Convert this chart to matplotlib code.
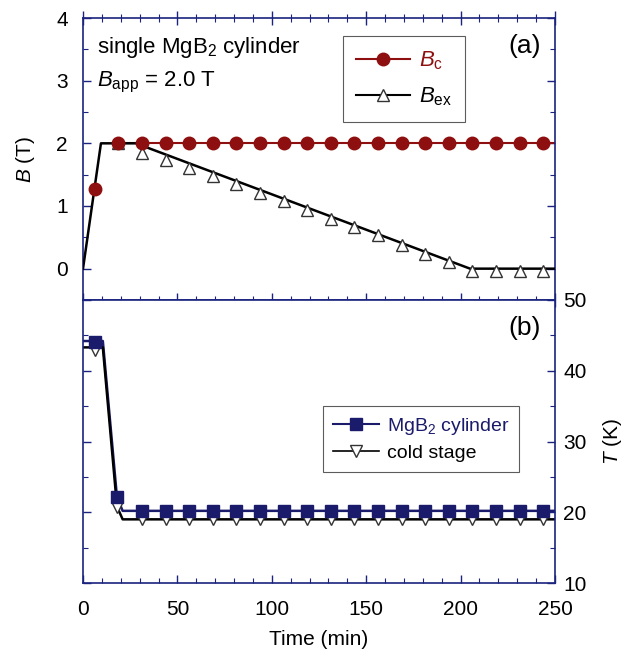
import matplotlib
matplotlib.use("Agg")
import matplotlib.pyplot as plt
from matplotlib.ticker import MultipleLocator

# ── data ──
t_marks = [6.25, 18.75, 31.25, 43.75, 56.25, 68.75, 81.25, 93.75, 106.25, 118.75,
           131.25, 143.75, 156.25, 168.75, 181.25, 193.75, 206.25, 218.75, 231.25, 243.75]
b_c = [1.27, 2.0, 2.0, 2.0, 2.0, 2.0, 2.0, 2.0, 2.0, 2.0,
       2.0, 2.0, 2.0, 2.0, 2.0, 2.0, 2.0, 2.0, 2.0, 2.0]
t_ex = t_marks[1:]
b_ex = [2.0, 1.85, 1.73, 1.60, 1.48, 1.35, 1.21, 1.08, 0.94, 0.80,
        0.66, 0.53, 0.38, 0.24, 0.10, -0.03, -0.03, -0.03, -0.03]
# continuous traces
t_bc_line = [18.75, 250]
bc_line = [2.0, 2.0]
t_bex_line = [0, 9.5, 28, 205, 250]
bex_line = [0, 2.0, 2.0, 0.0, 0.0]

t_cyl = [6.25, 18.0, 31.25, 43.75, 56.25, 68.75, 81.25, 93.75, 106.25, 118.75,
         131.25, 143.75, 156.25, 168.75, 181.25, 193.75, 206.25, 218.75, 231.25, 243.75]
T_cyl = [44.0, 22.1, 20.2, 20.2, 20.2, 20.2, 20.2, 20.2, 20.2, 20.2,
         20.2, 20.2, 20.2, 20.2, 20.2, 20.2, 20.2, 20.2, 20.2, 20.2]
T_stage = [43.0, 20.8, 19.0, 19.0, 19.0, 19.0, 19.0, 19.0, 19.0, 19.0,
           19.0, 19.0, 19.0, 19.0, 19.0, 19.0, 19.0, 19.0, 19.0, 19.0]
t_line_b = [0, 10.5, 18.0, 21.0, 250]
T_cyl_line = [44.2, 44.2, 22.1, 20.2, 20.2]
T_stage_line = [43.3, 43.3, 20.8, 19.0, 19.0]

RED = '#8E0F0F'
NAVY = '#1B1B6B'
SPINE = '#1A237E'

plt.rcParams.update({
    'font.family': ['Liberation Sans', 'DejaVu Sans'],
    'mathtext.fontset': 'custom',
    'mathtext.rm': 'Liberation Sans',
    'mathtext.it': 'Liberation Sans:italic',
    'font.size': 14,
})

fig = plt.figure(figsize=(6.26, 6.57), dpi=100, facecolor='white')
ax1 = fig.add_axes([0.1326, 0.5434, 0.754, 0.4292])
ax2 = fig.add_axes([0.1326, 0.1126, 0.754, 0.4308], sharex=ax1)

# ── panel (a) ──
ax1.plot(t_bc_line, bc_line, color=RED, lw=1.5, zorder=2)
ax1.plot(t_marks, b_c, ls='none', marker='o', ms=9, color=RED, mec=RED, zorder=4)
ax1.plot(t_bex_line, bex_line, color='black', lw=1.8, zorder=3)
ax1.plot(t_ex, b_ex, ls='none', marker='^', ms=9, mfc='white', mec='#333333',
         mew=1.0, zorder=3.5)

h1 = ax1.plot([], [], color=RED, lw=1.5, marker='o', ms=9, mec=RED)[0]
h2 = ax1.plot([], [], color='black', lw=1.5, marker='^', ms=9, mfc='white', mec='#333333')[0]
leg1 = ax1.legend([h1, h2], [r'$B_{\rm c}$', r'$B_{\rm ex}$'], loc='upper left',
                  bbox_to_anchor=(0.551, 0.935), borderaxespad=0, fancybox=False,
                  edgecolor='#333333', handlelength=2.4, fontsize=16,
                  labelspacing=0.6, borderpad=0.6, handletextpad=0.4)
leg1.get_frame().set_linewidth(0.8)
leg1.get_texts()[0].set_color(RED)

ax1.text(0.03, 0.895, r'single MgB$_2$ cylinder', transform=ax1.transAxes,
         fontsize=16, va='center')
ax1.text(0.03, 0.77, r'$B_{\rm app}$ = 2.0 T', transform=ax1.transAxes,
         fontsize=16, va='center')
ax1.text(0.97, 0.9, '(a)', transform=ax1.transAxes, fontsize=19,
         ha='right', va='center')

ax1.set_ylim(-0.5, 4)
ax1.set_yticks([0, 1, 2, 3, 4])
ax1.yaxis.set_minor_locator(MultipleLocator(0.5))
ax1.set_ylabel(r'$B$ (T)', fontsize=15, labelpad=14)
ax1.tick_params(axis='x', which='both', labelbottom=False, bottom=True, top=True,
                direction='inout')
ax1.tick_params(axis='y', which='both', left=True, right=True, direction='in', pad=11)

# ── panel (b) ──
ax2.plot(t_line_b, T_cyl_line, color=NAVY, lw=1.8, zorder=2)
ax2.plot(t_line_b, T_stage_line, color='black', lw=1.8, zorder=2)
ax2.plot(t_cyl, T_cyl, ls='none', marker='s', ms=8, color=NAVY, mec=NAVY, zorder=4)
ax2.plot(t_cyl, T_stage, ls='none', marker='v', ms=9, mfc='white', mec='#333333',
         mew=1.0, zorder=3)

g1 = ax2.plot([], [], color=NAVY, lw=1.5, marker='s', ms=8, mec=NAVY)[0]
g2 = ax2.plot([], [], color='black', lw=1.2, marker='v', ms=9, mfc='white', mec='#333333')[0]
leg2 = ax2.legend([g1, g2], [r'MgB$_2$ cylinder', 'cold stage'], loc='upper left',
                  bbox_to_anchor=(0.508, 0.625), borderaxespad=0, fancybox=False,
                  edgecolor='#333333', handlelength=2.4, fontsize=14,
                  labelspacing=0.4, borderpad=0.5, handletextpad=0.4)
leg2.get_frame().set_linewidth(0.8)
leg2.get_texts()[0].set_color(NAVY)

ax2.text(0.97, 0.9, '(b)', transform=ax2.transAxes, fontsize=19,
         ha='right', va='center')

ax2.set_ylim(10, 50)
ax2.yaxis.set_major_locator(MultipleLocator(10))
ax2.yaxis.set_minor_locator(MultipleLocator(5))
ax2.yaxis.tick_right()
ax2.yaxis.set_label_position('right')
ax2.set_ylabel(r'$T$ (K)', fontsize=15, labelpad=10)
ax2.tick_params(axis='y', which='both', left=True, right=True, labelleft=False,
                labelright=True, direction='in', pad=6)
ax2.tick_params(axis='x', which='both', bottom=True, top=False, direction='in', pad=12)

ax2.set_xlim(0, 250)
ax2.xaxis.set_major_locator(MultipleLocator(50))
ax2.xaxis.set_minor_locator(MultipleLocator(10))
ax2.set_xlabel('Time (min)', fontsize=15, labelpad=8)

for ax in (ax1, ax2):
    for sp in ax.spines.values():
        sp.set_color(SPINE)
        sp.set_linewidth(1.2)
    ax.tick_params(which='major', length=6, width=1.0, color=SPINE, labelsize=15)
    ax.tick_params(which='minor', length=3.5, width=0.8, color=SPINE)
ax1.tick_params(axis='x', which='major', length=10)
ax1.tick_params(axis='x', which='minor', length=6)

fig.savefig('out.png', dpi=100, facecolor='white')
